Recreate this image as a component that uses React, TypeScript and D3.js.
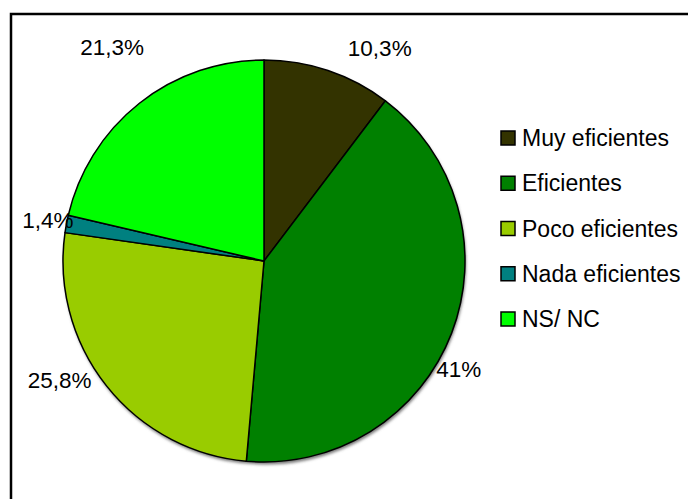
import React from "react";
import * as d3 from "d3";

const categories = ["Muy eficientes", "Eficientes", "Poco eficientes", "Nada eficientes", "NS/ NC"];
const values = [10.3, 41, 25.8, 1.4, 21.3];
const labels = ["10,3%", "41%", "25,8%", "1,4%", "21,3%"];
const colors = ["#333300", "#008000", "#99CC00", "#008080", "#00FF00"];

// label layout tweaks (degrees of rotation from slice middle, radius in px)
const labelShiftDeg = [10, 8, 8, 0, 3];
const labelRadius = [242, 223, 237, 220, 262];

const W = 688;
const H = 499;
const cx = 264;
const cy = 261;
const R = 201;
const font = "'Liberation Sans', Arial, sans-serif";

export default function App() {
  const pie = d3.pie<number>().sort(null).value((d) => d);
  const arcs = pie(values);
  const arc = d3.arc<d3.PieArcDatum<number>>().innerRadius(0).outerRadius(R);
  const legendY = d3.scalePoint<string>().domain(categories).range([138, 319]);

  return (
    <svg
      width={W}
      height={H}
      style={{ position: "absolute", left: 0, top: 0, background: "#fff" }}
      fontFamily={font}
    >
      <defs>
        <filter id="sh" x="-10%" y="-10%" width="120%" height="120%">
          <feGaussianBlur stdDeviation="1.5" />
        </filter>
      </defs>
      <rect x={0} y={0} width={W} height={H} fill="#fff" />
      <rect x={11} y={14} width={W + 20} height={H + 20} fill="#fff" stroke="#000" strokeWidth={2.5} />
      <circle cx={cx + 1} cy={cy + 2.5} r={R} fill="#777" filter="url(#sh)" />
      <g transform={`translate(${cx},${cy})`}>
        {arcs.map((a, i) => (
          <path key={i} d={arc(a) || ""} fill={colors[i]} stroke="#000" strokeWidth={1.5} strokeLinejoin="round" />
        ))}
        {arcs.map((a, i) => {
          const mid = (a.startAngle + a.endAngle) / 2 + (labelShiftDeg[i] * Math.PI) / 180;
          const r = labelRadius[i];
          const x = Math.sin(mid) * r;
          const y = -Math.cos(mid) * r;
          return (
            <text key={i} x={x} y={y} textAnchor="middle" dominantBaseline="central" fontSize={22.5} fill="#000">
              {labels[i]}
            </text>
          );
        })}
      </g>
      {categories.map((c, i) => {
        const y = legendY(c) as number;
        return (
          <g key={c}>
            <rect x={501} y={y - 7} width={14} height={14} fill={colors[i]} stroke="#000" strokeWidth={1.5} />
            <text x={522} y={y} dominantBaseline="central" fontSize={23} fill="#000">
              {c}
            </text>
          </g>
        );
      })}
    </svg>
  );
}
